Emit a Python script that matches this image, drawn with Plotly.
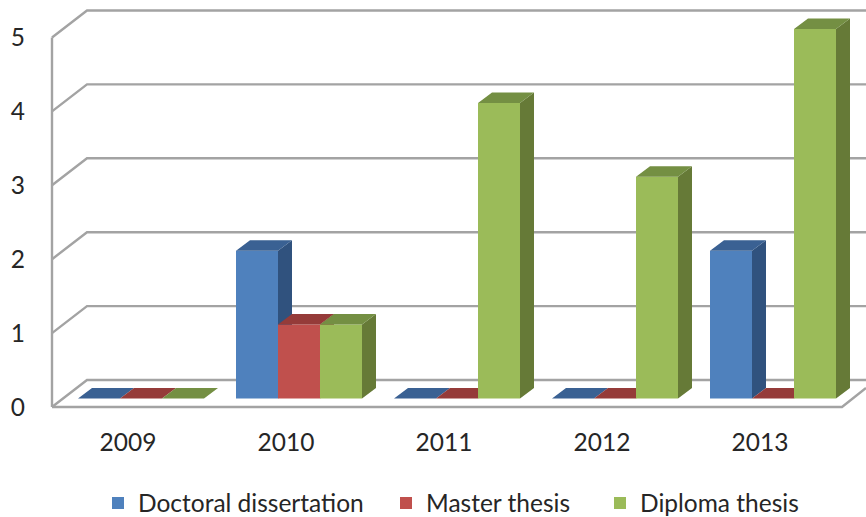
import plotly.graph_objects as go

years = ["2009", "2010", "2011", "2012", "2013"]
doctoral = [0, 2, 0, 0, 2]
master = [0, 1, 0, 0, 0]
diploma = [0, 1, 4, 3, 5]
y_ticks = [0, 1, 2, 3, 4, 5]

W, H = 866, 517
L, R, T, B = 30, 0, 0, 107
PX_X = 158.0   # px per category
PX_Y = 73.9    # px per value unit
X0_PX = 128.0  # px of first category
Y0_PX = 407.0  # px of value 0 at the front plane

x_range = [(L - X0_PX) / PX_X, (W - R - X0_PX) / PX_X]
y_range = [(Y0_PX - (H - B)) / PX_Y, (Y0_PX - T) / PX_Y]

dx = lambda p: p / PX_X
dy = lambda p: p / PX_Y

idx = list(range(len(years)))
BAR_W = dx(42)
BAR_BASE = dy(8.5)
DEPTH_X, DEPTH_Y = dx(14), dy(10.5)
WALL_X, WALL_Y = dx(35), dy(27)
AXIS_X = x_range[0] + dx(22)
FLOOR_END = (842 - X0_PX) / PX_X

series = [
    ("Doctoral dissertation", doctoral, dx(-50), "#4F81BD", "#30527E", "#3A6193", "legend"),
    ("Master thesis", master, dx(-8), "#C0504D", "#8A3A38", "#953B39", "legend2"),
    ("Diploma thesis", diploma, dx(34), "#9BBB59", "#667A37", "#748F43", "legend3"),
]

fig = go.Figure()

# perspective walls
GRID = "#A3A3A3"
gx, gy = [], []
for v in y_ticks:
    gx += [AXIS_X, AXIS_X + WALL_X, x_range[1], None]
    gy += [v, v + WALL_Y, v + WALL_Y, None]
gx += [AXIS_X, AXIS_X, None, AXIS_X, FLOOR_END, FLOOR_END + dx(24)]
gy += [y_ticks[0], y_ticks[-1], None, 0, 0, dy(19)]
fig.add_trace(go.Scatter(x=gx, y=gy, mode="lines", line=dict(color=GRID, width=2.4),
                         showlegend=False, hoverinfo="skip", cliponaxis=False))

for n, (name, vals, off, front, side, top, leg) in enumerate(series):
    ax = str(n + 2)
    xa, ya = "x" + ax, "y" + ax
    sx, sy, tx, ty = [], [], [], []
    for i, v in zip(idx, vals):
        x1 = i + off
        x2 = x1 + BAR_W
        y1 = BAR_BASE
        y2 = BAR_BASE + v
        if v > 0:
            sx += [x2, x2 + DEPTH_X, x2 + DEPTH_X, x2, x2, None]
            sy += [y1, y1 + DEPTH_Y, y2 + DEPTH_Y, y2, y1, None]
        tx += [x1, x2, x2 + DEPTH_X, x1 + DEPTH_X, x1, None]
        ty += [y2, y2, y2 + DEPTH_Y, y2 + DEPTH_Y, y2, None]
    fig.add_trace(go.Bar(x=idx, y=vals, base=BAR_BASE, width=BAR_W, offset=off, name=name,
                         marker=dict(color=front, line=dict(width=0)), legend=leg,
                         xaxis=xa, yaxis=ya))
    fig.add_trace(go.Scatter(x=sx, y=sy, fill="toself", fillcolor=side, mode="none",
                             showlegend=False, hoverinfo="skip", xaxis=xa, yaxis=ya))
    fig.add_trace(go.Scatter(x=tx, y=ty, fill="toself", fillcolor=top, mode="none",
                             showlegend=False, hoverinfo="skip", xaxis=xa, yaxis=ya))

FONT = "Lato, Carlito, Calibri, sans-serif"
TXT = "#262626"
FS = 24.5
layout = dict(
    width=W, height=H, margin=dict(l=L, r=R, t=T, b=B, autoexpand=False),
    paper_bgcolor="white", plot_bgcolor="white",
    font=dict(family=FONT, size=FS, color=TXT),
    barmode="overlay",
    xaxis=dict(range=x_range, tickmode="array", tickvals=idx, ticktext=years, showgrid=False,
               zeroline=False, showline=False, ticks="", ticklabelstandoff=15),
    yaxis=dict(range=y_range, tickmode="array", tickvals=y_ticks, showgrid=False,
               zeroline=False, showline=False, ticks="", ticklabelstandoff=4),
)
for n in range(2, 5):
    layout[f"xaxis{n}"] = dict(range=x_range, overlaying="x", visible=False)
    layout[f"yaxis{n}"] = dict(range=y_range, overlaying="y", visible=False)

plot_w = W - L - R
plot_h = H - T - B
def legend_at(px, py=503):
    return dict(x=(px - L) / plot_w, y=(plot_h + T - py) / plot_h, xanchor="left", yanchor="middle",
                orientation="h", bgcolor="rgba(0,0,0,0)", font=dict(family=FONT, size=FS, color=TXT))
layout["legend"] = legend_at(98)
layout["legend2"] = legend_at(386)
layout["legend3"] = legend_at(600)
fig.update_layout(**layout)
fig.write_html("out.html", post_script="document.body.style.margin='0';",
               config=dict(displayModeBar=False))
